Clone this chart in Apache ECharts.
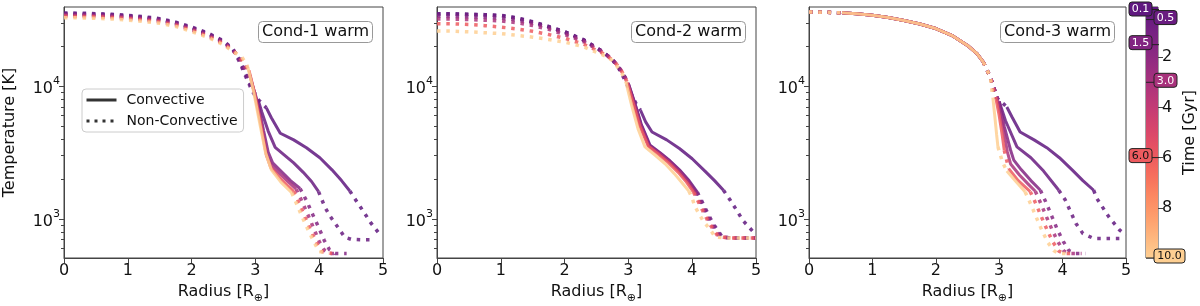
<!DOCTYPE html>
<html><head><meta charset="utf-8">
<script src="https://cdn.jsdelivr.net/npm/echarts@6/dist/echarts.min.js"></script>
<style>html,body{margin:0;padding:0;background:#fff}#chart{width:1200px;height:306px}</style>
</head><body><div id="chart"></div>
<script>
// ---------------- DATA ----------------
const panelTitles = ['Cond-1 warm', 'Cond-2 warm', 'Cond-3 warm'];
const times = [0.1, 0.5, 1.5, 3.0, 6.0, 10.0];
const timeLabels = ['0.1', '0.5', '1.5', '3.0', '6.0', '10.0'];
const xTickLabels = [0, 1, 2, 3, 4, 5];
const yMajorTicks = [1000, 10000];
const yMinorTicks = [600, 700, 800, 900, 2000, 3000, 4000, 5000, 6000, 7000, 8000, 9000, 20000, 30000];
const cbTicks = [2, 4, 6, 8];
const legendNames = ['Convective', 'Non-Convective'];

// Cond-1 warm : [radius R_earth, temperature K]
const c1_01 = [[0,35600],[0.25,35500],[0.5,35200],[0.75,34800],[1,34200],[1.25,33400],[1.5,32300],[1.75,30400],[2,27900],[2.25,25200],[2.5,22000],[2.65,19000],[2.75,15800],[2.85,12300],[2.95,9600],[3.05,7900],[3.17,6900],[3.25,5800],[3.39,4430],[3.6,3950],[3.8,3450],[4.01,2900],[4.2,2350],[4.35,1950],[4.48,1630],[4.6,1330],[4.7,1130],[4.8,950],[4.93,790]];
const c1_01_conv = [[3.17,4.48]];
const c1_05 = [[0,35100],[0.25,35000],[0.5,34800],[0.75,34400],[1,33800],[1.25,33000],[1.5,31900],[1.75,30000],[2,27600],[2.25,24900],[2.5,21700],[2.65,18800],[2.75,15300],[2.85,11800],[2.95,9200],[3.05,7700],[3.1,6400],[3.2,4600],[3.31,3470],[3.45,3050],[3.6,2650],[3.75,2250],[3.88,1920],[3.99,1610],[4.09,1230],[4.17,1054],[4.3,860],[4.4,731],[4.5,705],[4.65,700],[4.82,700]];
const c1_05_conv = [[3.05,3.99]];
const c1_15 = [[0,34700],[0.25,34600],[0.5,34400],[0.75,34000],[1,33400],[1.25,32600],[1.5,31600],[1.75,29800],[2,27300],[2.25,24700],[2.5,21500],[2.65,18800],[2.75,16000],[2.85,12800],[2.95,10300],[3.05,7200],[3.13,4600],[3.2,3200],[3.27,2650],[3.4,2300],[3.55,1950],[3.7,1700],[3.8,1380],[3.9,1080],[4.0,850],[4.08,690],[4.16,590],[4.25,552],[4.43,552]];
const c1_15_conv = [[2.95,3.7]];
const c1_30 = [[0,34200],[0.25,34100],[0.5,33900],[0.75,33500],[1,32900],[1.25,32100],[1.5,31100],[1.75,29300],[2,26800],[2.25,24200],[2.5,21200],[2.65,18700],[2.75,16400],[2.85,13500],[2.92,11800],[3.0,8400],[3.1,5000],[3.18,3000],[3.25,2550],[3.4,2150],[3.52,1900],[3.64,1680],[3.73,1360],[3.83,1060],[3.92,840],[4.0,680],[4.08,585],[4.15,552],[4.3,552]];
const c1_30_conv = [[2.92,3.64]];
const c1_60 = [[0,33600],[0.25,33500],[0.5,33300],[0.75,32900],[1,32300],[1.25,31500],[1.5,30500],[1.75,28800],[2,26400],[2.25,23800],[2.5,20900],[2.65,18500],[2.75,16700],[2.83,14700],[2.9,13200],[2.98,9200],[3.08,5300],[3.17,3050],[3.24,2450],[3.38,2050],[3.5,1800],[3.6,1620],[3.69,1300],[3.78,1030],[3.87,820],[3.96,660],[4.04,570],[4.2,552]];
const c1_60_conv = [[2.9,3.6]];
const c1_100 = [[0,32800],[0.25,32700],[0.5,32500],[0.75,32100],[1,31500],[1.25,30700],[1.5,29800],[1.75,28200],[2,25800],[2.25,23400],[2.5,20500],[2.65,18200],[2.77,17000],[2.83,15500],[2.88,14000],[2.97,9200],[3.07,5200],[3.16,3150],[3.25,2350],[3.4,1900],[3.57,1580],[3.65,1290],[3.74,1020],[3.83,820],[3.92,670],[4.0,570],[4.15,552]];
const c1_100_conv = [[2.88,3.57]];

// Cond-2 warm
const c2_01 = [[0,35200],[0.25,35100],[0.5,34900],[0.75,34600],[1,34200],[1.25,32800],[1.5,30600],[1.75,28200],[2,25800],[2.3,22400],[2.6,18200],[2.75,15800],[2.85,13600],[2.96,10800],[3.05,8600],[3.12,7400],[3.19,6600],[3.27,5400],[3.37,4530],[3.6,3950],[3.8,3400],[4.0,2850],[4.2,2300],[4.35,1950],[4.49,1650],[4.6,1380],[4.7,1160],[4.8,970],[4.97,790]];
const c2_01_conv = [[3.19,4.49]];
const c2_05 = [[0,35000],[0.25,34900],[0.5,34700],[0.75,34400],[1,34000],[1.25,32600],[1.5,30400],[1.75,28000],[2,25700],[2.3,22300],[2.6,18200],[2.75,15900],[2.85,13800],[2.93,12000],[3.0,10500],[3.1,7500],[3.2,5200],[3.34,3600],[3.5,3150],[3.65,2750],[3.8,2350],[3.95,1950],[4.08,1600],[4.14,1400],[4.2,1220],[4.26,1070],[4.32,940],[4.39,836],[4.47,736],[4.6,722],[4.8,720],[5.0,720]];
const c2_05_conv = [[3.0,4.08]];
const c2_15 = [[0,33600],[0.25,33500],[0.5,33300],[0.75,33000],[1,32600],[1.25,31500],[1.5,29800],[1.75,27600],[2,25200],[2.3,22000],[2.6,18100],[2.75,15900],[2.85,13900],[2.93,12100],[3.0,10400],[3.1,7400],[3.2,5100],[3.33,3580],[3.5,3120],[3.65,2720],[3.8,2320],[3.94,1930],[4.06,1600],[4.12,1400],[4.18,1220],[4.24,1070],[4.3,940],[4.37,836],[4.45,736],[4.6,722],[4.8,720],[5.0,720]];
const c2_15_conv = [[3.0,4.06]];
const c2_30 = [[0,32100],[0.25,32000],[0.5,31800],[0.75,31400],[1,31000],[1.25,30100],[1.5,28700],[1.75,26800],[2,24500],[2.3,21600],[2.6,18000],[2.75,15900],[2.85,14000],[2.93,12200],[2.99,10600],[3.09,7400],[3.19,5100],[3.32,3560],[3.5,3080],[3.65,2680],[3.8,2280],[3.93,1920],[4.04,1600],[4.1,1400],[4.16,1220],[4.22,1070],[4.28,940],[4.35,836],[4.43,736],[4.6,722],[4.8,720],[5.0,720]];
const c2_30_conv = [[2.99,4.04]];
const c2_60 = [[0,29600],[0.25,29500],[0.5,29200],[0.75,28600],[1,27900],[1.25,27000],[1.5,25900],[1.75,24500],[2,23000],[2.3,20700],[2.6,17700],[2.75,15800],[2.85,14000],[2.92,12400],[2.98,10700],[3.08,7300],[3.18,5000],[3.31,3540],[3.48,3050],[3.63,2650],[3.78,2250],[3.91,1900],[4.02,1600],[4.08,1400],[4.14,1220],[4.2,1070],[4.26,940],[4.33,836],[4.41,736],[4.6,722],[4.8,720],[5.0,720]];
const c2_60_conv = [[2.98,4.02]];
const c2_100 = [[0,26100],[0.25,26000],[0.5,25700],[0.75,25300],[1,24900],[1.25,24200],[1.5,23400],[1.75,22500],[2,21500],[2.3,19800],[2.5,18000],[2.65,16800],[2.75,15600],[2.85,13600],[2.92,12000],[2.96,10800],[3.05,7200],[3.15,4800],[3.26,3500],[3.43,3000],[3.58,2600],[3.72,2200],[3.84,1880],[3.95,1620],[4.0,1440],[4.04,1250],[4.11,1090],[4.18,955],[4.27,850],[4.36,736],[4.5,722],[4.8,720],[5.0,720]];
const c2_100_conv = [[2.96,3.95]];

// Cond-3 warm : shared core + per-time outer parts
const c3_core = [[0,36200],[0.25,36100],[0.52,35700],[0.75,35200],[1,34200],[1.25,32900],[1.5,31300],[1.75,29400],[2,27200],[2.25,24200],[2.5,20300],[2.65,17600],[2.75,15200],[2.86,11700]];
const c3_01 = [[2.92,9600],[2.97,8100],[3.05,7500],[3.12,6990],[3.2,5900],[3.33,4530],[3.55,3950],[3.75,3450],[3.95,2900],[4.15,2350],[4.32,1950],[4.49,1650],[4.54,1430],[4.73,1040],[4.9,827],[5.0,760]];
const c3_01_conv = [[0.52,2.75],[3.12,4.49]];
const c3_05 = [[2.92,9600],[2.97,8100],[3.0,7700],[3.1,5500],[3.28,3500],[3.5,2900],[3.7,2300],[3.94,1650],[4.04,1400],[4.14,1100],[4.21,929],[4.32,780],[4.49,716],[4.75,716],[4.97,716]];
const c3_05_conv = [[0.52,2.75],[3.0,3.94]];
const c3_15 = [[2.92,9600],[2.97,8100],[3.0,7700],[3.08,5000],[3.18,3300],[3.23,2780],[3.35,2350],[3.5,1950],[3.65,1650],[3.74,1330],[3.83,1050],[3.92,830],[4.01,680],[4.1,580],[4.2,552],[4.36,552]];
const c3_15_conv = [[0.52,2.75],[3.0,3.65]];
const c3_30 = [[2.92,9600],[2.97,8100],[3.05,5200],[3.13,3200],[3.18,2600],[3.32,2150],[3.45,1850],[3.57,1620],[3.66,1300],[3.75,1030],[3.84,820],[3.93,670],[4.02,575],[4.1,552],[4.3,552]];
const c3_30_conv = [[0.52,2.75],[2.97,3.57]];
const c3_60 = [[2.92,9000],[2.95,8000],[3.0,6000],[3.05,4200],[3.08,3300],[3.12,2750],[3.15,2400],[3.3,1950],[3.49,1610],[3.58,1300],[3.67,1030],[3.76,820],[3.85,670],[3.94,575],[4.02,552],[4.2,552]];
const c3_60_conv = [[0.52,2.75],[2.95,3.08],[3.15,3.49]];
const c3_100 = [[2.9,8200],[2.93,6000],[2.96,4300],[2.98,3500],[3.05,2700],[3.12,2300],[3.25,1950],[3.41,1600],[3.5,1290],[3.59,1020],[3.68,810],[3.77,665],[3.86,580],[3.93,552],[4.1,552]];
const c3_100_conv = [[0.52,2.75],[2.9,2.98],[3.12,3.41]];

// ---------------- STYLE / BUILD ----------------
const FONT = 'DejaVu Sans';
const magmaStops = [[0.25,'#51127c'],[0.30,'#641a80'],[0.35,'#792282'],[0.40,'#8c2981'],[0.45,'#a1307e'],[0.50,'#b73779'],[0.55,'#cc3f71'],[0.60,'#de4968'],[0.65,'#ed5a5f'],[0.70,'#f7705c'],[0.75,'#fc8961'],[0.80,'#fe9f6d'],[0.85,'#feb77e'],[0.90,'#fecf92']];
function hex2rgb(h){return [parseInt(h.slice(1,3),16),parseInt(h.slice(3,5),16),parseInt(h.slice(5,7),16)];}
function magma(f){
  if (f <= magmaStops[0][0]) return magmaStops[0][1];
  for (let i = 1; i < magmaStops.length; i++) {
    if (f <= magmaStops[i][0]) {
      const a = magmaStops[i-1], b = magmaStops[i];
      const k = (f - a[0]) / (b[0] - a[0]);
      const ca = hex2rgb(a[1]), cb = hex2rgb(b[1]);
      const c = ca.map((v, j) => Math.round(v + (cb[j] - v) * k));
      return 'rgb(' + c.join(',') + ')';
    }
  }
  return magmaStops[magmaStops.length-1][1];
}
const cLo = 0.28, cHi = 0.90;
function timeColor(t){ return magma(cLo + (cHi - cLo) * t / 10); }

const panels = [
  { lines: [c1_01, c1_05, c1_15, c1_30, c1_60, c1_100], conv: [c1_01_conv, c1_05_conv, c1_15_conv, c1_30_conv, c1_60_conv, c1_100_conv] },
  { lines: [c2_01, c2_05, c2_15, c2_30, c2_60, c2_100], conv: [c2_01_conv, c2_05_conv, c2_15_conv, c2_30_conv, c2_60_conv, c2_100_conv] },
  { lines: [c3_01, c3_05, c3_15, c3_30, c3_60, c3_100].map(a => c3_core.concat(a)), conv: [c3_01_conv, c3_05_conv, c3_15_conv, c3_30_conv, c3_60_conv, c3_100_conv] }
];

function splitLine(pts, conv) {
  const eps = 1e-9;
  const incl = r => conv.some(c => r >= c[0] - eps && r <= c[1] + eps);
  const strict = r => conv.some(c => r > c[0] + eps && r < c[1] - eps);
  return {
    solid: pts.map(p => incl(p[0]) ? p : '-'),
    dotted: pts.map(p => strict(p[0]) ? '-' : p)
  };
}

const gridPos = [
  { left: 64, top: 7, width: 319, height: 251 },
  { left: 437, top: 7, width: 319, height: 251 },
  { left: 809, top: 7, width: 317, height: 251 },
  { left: 1146, top: 7, width: 12, height: 251 }
];
const grids = gridPos.map(g => Object.assign({ show: true, borderColor: '#444', borderWidth: 1, backgroundColor: 'transparent', containLabel: false, outerBoundsMode: 'none' }, g));
// overlay grids (same boxes) carrying the minor log ticks
for (let i = 0; i < 3; i++) grids.push(Object.assign({ show: false, containLabel: false, outerBoundsMode: 'none' }, gridPos[i]));

const Y_MIN = 510, Y_MAX = 39500;
const axisColor = '#444';
const xAxes = [], yAxes = [];
for (let i = 0; i < 3; i++) {
  xAxes.push({
    type: 'value', gridIndex: i, min: xTickLabels[0], max: xTickLabels[xTickLabels.length-1], interval: 1,
    axisLine: { show: true, lineStyle: { color: axisColor } },
    axisTick: { show: true, length: 5, lineStyle: { color: axisColor } },
    axisLabel: { fontSize: 16, color: '#111', fontFamily: FONT, margin: 5 },
    splitLine: { show: false },
    name: '{b|Radius [R}{sub|⊕}{b|]}', nameLocation: 'middle', nameGap: 26, nameMoveOverlap: false,
    nameTextStyle: { fontFamily: FONT, color: '#111', fontSize: 16,
      rich: { b: { fontSize: 16, fontFamily: FONT, color: '#111', lineHeight: 20, verticalAlign: 'top' },
              sub: { fontSize: 11, fontFamily: FONT, color: '#111', lineHeight: 11, verticalAlign: 'bottom' } } }
  });
  yAxes.push({
    type: 'log', logBase: 10, gridIndex: i, min: Y_MIN, max: Y_MAX, position: 'left',
    axisLine: { show: true, lineStyle: { color: axisColor } },
    axisTick: { show: true, length: 5, customValues: yMajorTicks, lineStyle: { color: axisColor } },
    axisLabel: { customValues: yMajorTicks, margin: 4, fontFamily: FONT, color: '#111',
      formatter: v => '{b|10}{sup|' + Math.round(Math.log10(v)) + '}',
      rich: { b: { fontSize: 16, fontFamily: FONT, color: '#111', lineHeight: 22, verticalAlign: 'bottom' },
              sup: { fontSize: 11, fontFamily: FONT, color: '#111', lineHeight: 11, verticalAlign: 'top' } } },
    splitLine: { show: false },
    name: i === 0 ? 'Temperature [K]' : '', nameLocation: 'middle', nameGap: 46, nameMoveOverlap: false,
    nameTextStyle: { fontFamily: FONT, fontSize: 16, color: '#111' }
  });
}
// colorbar axes (grid 3)
xAxes.push({ type: 'category', gridIndex: 3, data: ['cb'], show: false });
yAxes.push({
  type: 'value', gridIndex: 3, min: 0, max: 10, inverse: true, position: 'right',
  axisLine: { show: false },
  axisTick: { show: true, length: 5, customValues: cbTicks, lineStyle: { color: axisColor } },
  axisLabel: { customValues: cbTicks, fontSize: 16, color: '#111', fontFamily: FONT, margin: 4 },
  splitLine: { show: false },
  name: 'Time [Gyr]', nameLocation: 'middle', nameRotate: 90, nameGap: 24, nameMoveOverlap: false,
  nameTextStyle: { fontFamily: FONT, fontSize: 16, color: '#111' }
});
const CB_Y = 3;
// minor-tick overlay axes (grids 4..6)
for (let i = 0; i < 3; i++) {
  xAxes.push({ type: 'value', gridIndex: 4 + i, min: 0, max: 5, show: false });
  yAxes.push({
    type: 'log', logBase: 10, gridIndex: 4 + i, min: Y_MIN, max: Y_MAX, position: 'left',
    axisLine: { show: false },
    axisTick: { show: true, length: 3, customValues: yMinorTicks, lineStyle: { color: axisColor } },
    axisLabel: { show: false }, splitLine: { show: false }
  });
}

const series = [];
panels.forEach((pn, i) => {
  pn.lines.forEach((pts, k) => {
    const col = timeColor(times[k]);
    const s = splitLine(pts, pn.conv[k]);
    series.push({
      type: 'line', xAxisIndex: i, yAxisIndex: i, data: s.dotted, symbol: 'none', showSymbol: false,
      connectNulls: false, silent: true, animation: false, z: 2 + k,
      lineStyle: { color: col, width: 3.5, type: [3.5, 5.8], cap: 'butt', opacity: 0.85 }
    });
    series.push({
      type: 'line', xAxisIndex: i, yAxisIndex: i, data: s.solid, symbol: 'none', showSymbol: false,
      connectNulls: false, silent: true, animation: false, z: 2 + k,
      lineStyle: { color: col, width: 3, type: 'solid', opacity: 0.85 }
    });
  });
});
// legend dummies
series.push({ name: legendNames[0], type: 'line', xAxisIndex: 0, yAxisIndex: 0, data: [], symbol: 'none', lineStyle: { color: '#333', width: 3, type: 'solid' }, itemStyle: { color: '#333' } });
series.push({ name: legendNames[1], type: 'line', xAxisIndex: 0, yAxisIndex: 0, data: [], symbol: 'none', lineStyle: { color: '#333', width: 3, type: [3, 5] }, itemStyle: { color: '#333' } });

// colorbar gradient
const cbStops = [];
for (let p = 0; p <= 1.0001; p += 0.05) cbStops.push({ offset: Math.min(p, 1), color: magma(cLo + (cHi - cLo) * Math.min(p, 1)) });
series.push({
  type: 'bar', xAxisIndex: 3, yAxisIndex: CB_Y, data: [10], barWidth: '100%', silent: true, animation: false,
  itemStyle: { color: { type: 'linear', x: 0, y: 0, x2: 0, y2: 1, colorStops: cbStops } }
});
// colorbar time flags
const flagSide = ['L', 'R', 'L', 'R', 'L', 'R'];
series.push({
  type: 'custom', xAxisIndex: 3, yAxisIndex: CB_Y, silent: true, animation: false, clip: false, z: 10,
  data: times.map((t, k) => [0, t, k]),
  renderItem: function (params, api) {
    const k = api.value(2);
    const p = api.coord([0, api.value(1)]);
    const txt = timeLabels[k];
    const w = txt.length === 3 ? 23 : 31, h = 14;
    const bl = p[0] - 6, br = p[0] + 6;
    let bx, lx1, lx2;
    if (flagSide[k] === 'L') { bx = bl - 17; lx1 = bx + w; lx2 = br + 1; }
    else { bx = br - 4; lx1 = bl; lx2 = bx; }
    const by = Math.max(2, p[1] - h / 2 - 2);
    const col = timeColor(times[k]);
    const tc = times[k] < 5 ? '#fff' : '#111';
    return { type: 'group', children: [
      { type: 'line', shape: { x1: lx1, y1: p[1], x2: lx2, y2: p[1] }, style: { stroke: '#222', lineWidth: 1 } },
      { type: 'rect', shape: { x: bx, y: by, width: w, height: h, r: 3 }, style: { fill: col, stroke: '#222', lineWidth: 1 } },
      { type: 'text', style: { text: txt, x: bx + w / 2, y: by + h / 2 + 0.5, align: 'center', verticalAlign: 'middle', fill: tc, font: '11px "DejaVu Sans"' } }
    ] };
  }
});

const titleLeft = [258, 631, 1000];
const titles = panelTitles.map((t, i) => ({
  text: t, left: titleLeft[i], top: 21, padding: [3, 4, 3, 4],
  textStyle: { fontFamily: FONT, fontSize: 16, fontWeight: 'normal', color: '#111', lineHeight: 16 },
  borderColor: '#999', borderWidth: 1, borderRadius: 4, backgroundColor: '#fff'
}));

const option = {
  animation: false,
  backgroundColor: '#fff',
  title: titles,
  legend: {
    data: legendNames, orient: 'vertical', left: 82, top: 89, itemWidth: 30, itemHeight: 14, itemGap: 7,
    padding: [4, 6, 4, 3], borderColor: '#ccc', borderWidth: 1, borderRadius: 4, backgroundColor: 'rgba(255,255,255,0.85)',
    selectedMode: false, lineStyle: { width: 3 }, itemStyle: { opacity: 0, borderWidth: 0 },
    textStyle: { fontFamily: FONT, fontSize: 14, color: '#111', padding: [0, 0, 0, 5] }
  },
  grid: grids, xAxis: xAxes, yAxis: yAxes, series: series
};
const chart = echarts.init(document.getElementById('chart'), null, { renderer: 'canvas' });
chart.setOption(option);
</script></body></html>
